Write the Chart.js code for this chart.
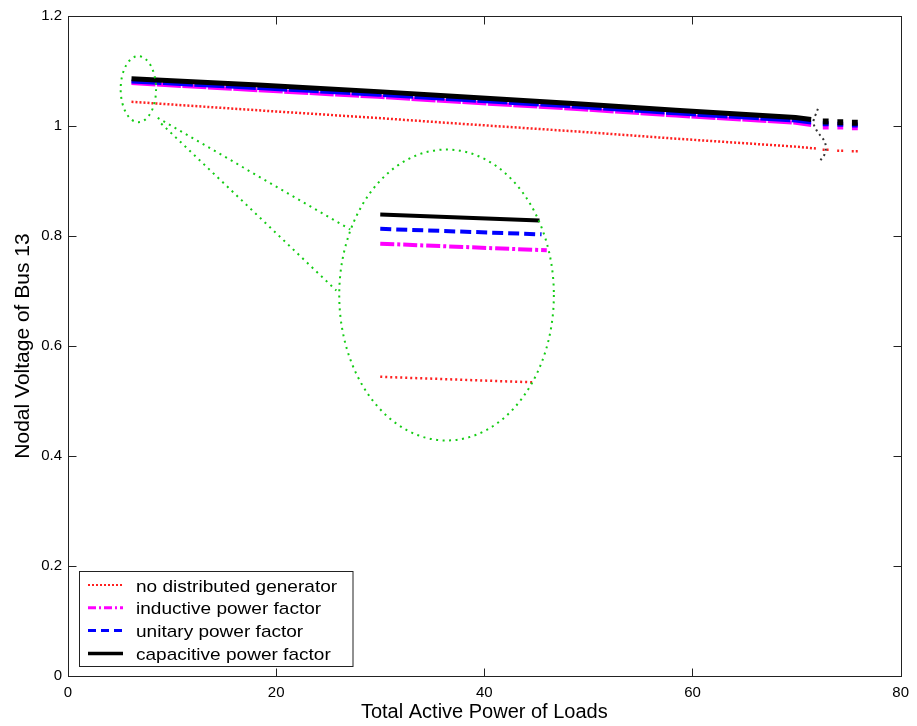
<!DOCTYPE html>
<html><head><meta charset="utf-8">
<script src="https://cdn.jsdelivr.net/npm/chart.js@4/dist/chart.umd.min.js"></script>
<style>html,body{margin:0;padding:0;background:#fff}</style>
</head><body>
<canvas id="c" width="917" height="726"></canvas>
<script>
// ---- data ----
const loadX      = [6.1, 18.3, 29.8, 37.4, 48.9, 58.4, 69.9, 71.4];
const redX       = [6.1, 18.3, 29.8, 37.4, 48.9, 58.4, 69.9, 71.9];
const noDG       = [1.044, 1.0285, 1.0145, 1.0045, 0.990, 0.977, 0.9625, 0.959];
const inductive  = [1.078, 1.065, 1.053, 1.044, 1.031, 1.019, 1.006, 1.002];
const unitary    = [1.081, 1.069, 1.057, 1.048, 1.035, 1.023, 1.010, 1.0065];
const capacitive = [1.086, 1.0745, 1.0625, 1.0535, 1.0405, 1.0285, 1.0155, 1.012];
// points after the axis break
const tailX          = [72.8, 74.2, 75.6];
const tailNoDG       = [0.957, 0.955, 0.954];
const tailInductive  = [0.998, 0.998, 0.997];
const tailUnitary    = [1.004, 1.003, 1.002];
const tailCapacitive = [1.008, 1.007, 1.006];
// magnified inset (zoom of the start region)
const insetX          = [30, 45.3];
const insetRedX       = [30, 44.6];
const insetMagX       = [30, 46];
const insetBlueX      = [30, 45.5];
const insetNoDG       = [0.544, 0.534];
const insetInductive  = [0.786, 0.774];
const insetUnitary    = [0.813, 0.803];
const insetCapacitive = [0.839, 0.828];
// annotation shapes (data units)
const smallEllipse = {cx: 6.76, cy: 1.067, rx: 1.70, ry: 0.060};
const bigEllipse   = {cx: 36.37, cy: 0.6927, rx: 10.31, ry: 0.2645};
const linkUpper = [[8.62, 1.0149], [27.11, 0.8118]];
const linkLower = [[8.95, 1.0045], [25.78, 0.7009]];
const breakX = [72.05, 71.85, 71.67, 71.63, 71.84, 72.10, 72.45, 72.72, 72.81, 72.70, 72.42, 72.17];
const breakY = [1.0313, 1.0215, 1.0130, 1.0045, 0.9950, 0.9870, 0.9790, 0.9705, 0.9590, 0.9490, 0.9410, 0.9331];
const xTicks = [0, 20, 40, 60, 80];
const yTicks = [0, 0.2, 0.4, 0.6, 0.8, 1.0, 1.2];

const labels = ['no distributed generator', 'inductive power factor', 'unitary power factor', 'capacitive power factor'];

function pts(xs, ys){ return xs.map((x,i)=>({x, y: ys[i]})); }
function tail(xs, ys, hw){
  const out = [];
  xs.forEach((x,i)=>{ out.push({x:x-hw,y:ys[i]}); out.push({x:x+hw,y:ys[i]}); out.push({x:x+hw+0.3,y:null}); });
  return out;
}

const RED='#ff2020', MAG='#ff00ff', BLUE='#0000ff', BLACK='#000000';

const datasets = [
  {label:labels[0], data:pts(redX,noDG), borderColor:RED, borderWidth:2.5, borderDash:[2,2], order:4},
  {label:labels[1], data:pts(loadX,inductive), borderColor:MAG, borderWidth:4, borderDash:[24,1.5], order:3},
  {label:labels[2], data:pts(loadX,unitary), borderColor:BLUE, borderWidth:4, borderDash:[30,1.5], order:2},
  {label:labels[3], data:pts(loadX,capacitive), borderColor:BLACK, borderWidth:5, order:1},
  {label:'_t0', data:tail(tailX,tailNoDG,0.3), borderColor:RED, borderWidth:2.5, borderDash:[2,2], order:4},
  {label:'_t1', data:tail(tailX,tailInductive,0.28), borderColor:MAG, borderWidth:5, order:3},
  {label:'_t2', data:tail(tailX,tailUnitary,0.28), borderColor:BLUE, borderWidth:5, order:2},
  {label:'_t3', data:tail(tailX,tailCapacitive,0.28), borderColor:BLACK, borderWidth:6, order:1},
  {label:'_i0', data:pts(insetRedX,insetNoDG), borderColor:RED, borderWidth:2.5, borderDash:[2,3], order:0},
  {label:'_i1', data:pts(insetMagX,insetInductive), borderColor:MAG, borderWidth:4, borderDash:[14,3,3,3], order:0},
  {label:'_i2', data:pts(insetBlueX,insetUnitary), borderColor:BLUE, borderWidth:4, borderDash:[11,5], order:0},
  {label:'_i3', data:pts(insetX,insetCapacitive), borderColor:BLACK, borderWidth:4, order:0},
  {label:'_brk', data:pts(breakX,breakY), borderColor:'#333', borderWidth:2, borderDash:[2,3.5], tension:0.4, order:0}
];

const decor = {
  id:'decor',
  afterDatasetsDraw(chart){
    const {ctx, scales:{x,y}, chartArea:a} = chart;
    const sx = v=>x.getPixelForValue(v), sy = v=>y.getPixelForValue(v);
    ctx.save();
    // green zoom annotation
    ctx.strokeStyle='#14cc14'; ctx.lineWidth=2; ctx.setLineDash([2,4.5]);
    [smallEllipse,bigEllipse].forEach(e=>{
      const cx=sx(e.cx), cy=sy(e.cy);
      const rx=Math.abs(sx(e.cx+e.rx)-cx), ry=Math.abs(sy(e.cy+e.ry)-cy);
      ctx.beginPath(); ctx.ellipse(cx,cy,rx,ry,0,0,Math.PI*2); ctx.stroke();
    });
    [linkUpper,linkLower].forEach(l=>{
      ctx.beginPath(); ctx.moveTo(sx(l[0][0]),sy(l[0][1])); ctx.lineTo(sx(l[1][0]),sy(l[1][1])); ctx.stroke();
    });
    ctx.setLineDash([]);
    // axes box
    ctx.strokeStyle='#222'; ctx.lineWidth=1;
    const L=Math.round(a.left)+0.5, R=Math.round(a.right)+0.5, T=Math.round(a.top)+0.5, B=Math.round(a.bottom)+0.5;
    ctx.strokeRect(L,T,R-L,B-T);
    ctx.beginPath();
    xTicks.forEach(v=>{ const p=Math.round(sx(v))+0.5; ctx.moveTo(p,B); ctx.lineTo(p,B-8); ctx.moveTo(p,T); ctx.lineTo(p,T+8); });
    yTicks.forEach(v=>{ const p=Math.round(sy(v))+0.5; ctx.moveTo(L,p); ctx.lineTo(L+8,p); ctx.moveTo(R,p); ctx.lineTo(R-8,p); });
    ctx.stroke();
    // legend
    const bx=79.5, by=571.5, bw=273.5, bh=95;
    ctx.fillStyle='#fff'; ctx.fillRect(bx,by,bw,bh);
    ctx.strokeStyle='#222'; ctx.lineWidth=1; ctx.strokeRect(bx,by,bw,bh);
    const styles=[
      {c:RED,w:2,d:[2,2]},{c:MAG,w:3,d:[8,3,2,3]},{c:BLUE,w:3,d:[8,5]},{c:BLACK,w:3.5,d:[]}
    ];
    styles.forEach((s,i)=>{
      const yy=585+i*22.8;
      ctx.strokeStyle=s.c; ctx.lineWidth=s.w; ctx.setLineDash(s.d);
      ctx.beginPath(); ctx.moveTo(88,yy); ctx.lineTo(123,yy); ctx.stroke();
      ctx.setLineDash([]);
      ctx.save(); ctx.translate(136,yy+6.5); ctx.scale(1.12,1);
      ctx.fillStyle='#000'; ctx.font='17px "Liberation Sans", Arial, sans-serif';
      ctx.textBaseline='alphabetic'; ctx.textAlign='left';
      ctx.fillText(labels[i],0,0); ctx.restore();
    });
    ctx.restore();
  }
};

const tickFont = {family:'"Liberation Sans", Arial, sans-serif', size:15};

new Chart(document.getElementById('c'), {
  type:'line',
  data:{datasets},
  options:{
    responsive:false, animation:false,
    layout:{padding:{top:16, right:11, left:0, bottom:0}},
    plugins:{legend:{display:false}, tooltip:{enabled:false}},
    elements:{point:{radius:0}, line:{tension:0, borderCapStyle:'butt', fill:false}},
    spanGaps:false,
    scales:{
      x:{type:'linear', min:0, max:80,
         afterBuildTicks(s){ s.ticks = xTicks.map(v=>({value:v})); },
         ticks:{font:tickFont, color:'#000', padding:8},
         grid:{display:false, drawTicks:false}, border:{display:false},
         title:{display:true, text:'Total Active Power of Loads', font:{family:'"Liberation Sans", Arial, sans-serif', size:20}, color:'#000', padding:{top:0,bottom:2}},
         afterFit(s){ s.height=50; }},
      y:{type:'linear', min:0, max:1.2,
         afterBuildTicks(s){ s.ticks = yTicks.map(v=>({value:v})); },
         ticks:{font:tickFont, color:'#000', padding:6, callback:v=>String(Math.round(v*10)/10)},
         grid:{display:false, drawTicks:false}, border:{display:false},
         title:{display:true, text:'Nodal Voltage of Bus 13', font:{family:'"Liberation Sans", Arial, sans-serif', size:21}, color:'#000', padding:{top:11,bottom:0}},
         afterFit(s){ s.width=68; }}
    }
  },
  plugins:[decor]
});
</script>
</body></html>
